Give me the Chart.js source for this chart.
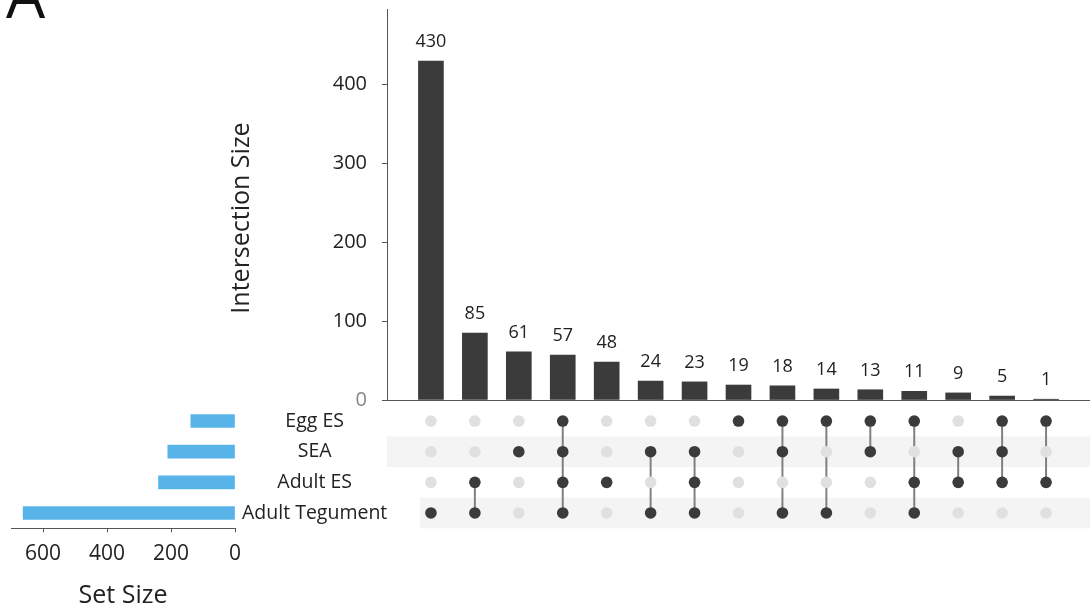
<!DOCTYPE html>
<html>
<head>
<meta charset="utf-8">
<script src="https://cdn.jsdelivr.net/npm/chart.js@4.4.0/dist/chart.umd.min.js"></script>
<style>
  body { margin: 0; background: #fff; }
  #wrap { position: relative; width: 1090px; height: 611px; overflow: hidden; }
  canvas { position: absolute; }
</style>
</head>
<body>
<div id="wrap">
  <canvas id="chart-sets" width="400" height="211" style="left:0;top:400px"></canvas>
  <canvas id="chart-matrix" width="1090" height="135" style="left:0;top:400px"></canvas>
  <canvas id="chart-bars" width="1090" height="415" style="left:0;top:0"></canvas>
</div>
<script>
const setNames = ["Egg ES", "SEA", "Adult ES", "Adult Tegument"];
const setSizes = [138, 210, 239, 662];
const intersectionSizes = [430, 85, 61, 57, 48, 24, 23, 19, 18, 14, 13, 11, 9, 5, 1];
// membership of each intersection column (1 = set is part of it)
const inEggES = [0, 0, 0, 1, 0, 0, 0, 1, 1, 1, 1, 1, 0, 1, 1];
const inSEA = [0, 0, 1, 1, 0, 1, 1, 0, 1, 0, 1, 0, 1, 1, 0];
const inAdultES = [0, 1, 0, 1, 1, 0, 1, 0, 0, 0, 0, 1, 1, 1, 1];
const inTegument = [1, 1, 0, 1, 0, 1, 1, 0, 1, 1, 0, 1, 0, 0, 0];
const intersectionTicks = [0, 100, 200, 300, 400];
const setSizeTicks = [0, 200, 400, 600];

Chart.defaults.font.family = "'Open Sans', sans-serif";
Chart.defaults.color = "#222";

const DARK = "#3b3b3b";
const AXIS = "#555";

// keep the axes from pushing the plot area around
function fixSize(w, h) {
  return (s) => {
    if (w !== null) s.width = w;
    if (h !== null) s.height = h;
    s.paddingTop = 0;
    s.paddingBottom = 0;
    s.paddingLeft = 0;
    s.paddingRight = 0;
  };
}

// ---- intersection size bars ----
const barLabels = {
  id: "barLabels",
  afterDatasetsDraw(chart) {
    const ctx = chart.ctx;
    const meta = chart.getDatasetMeta(0);
    ctx.save();
    ctx.font = '18px "Open Sans"';
    ctx.fillStyle = "#222";
    ctx.textAlign = "center";
    ctx.textBaseline = "middle";
    meta.data.forEach((bar, i) => {
      ctx.fillText(intersectionSizes[i], bar.x, bar.y - 19);
    });
    ctx.restore();
  },
  afterDraw(chart) {
    const ctx = chart.ctx;
    ctx.save();
    ctx.fillStyle = "#111";
    ctx.font = '62px "Open Sans"';
    ctx.textBaseline = "alphabetic";
    ctx.fillText("A", 6, 18);
    ctx.translate(242, 218);
    ctx.rotate(-Math.PI / 2);
    ctx.font = '25px "Open Sans"';
    ctx.textAlign = "center";
    ctx.textBaseline = "middle";
    ctx.fillStyle = "#222";
    ctx.fillText("Intersection Size", 0, 0);
    ctx.restore();
  },
};

const chartBars = new Chart(document.getElementById("chart-bars"), {
  type: "bar",
  data: {
    datasets: [
      {
        data: intersectionSizes.map((v, i) => ({ x: i, y: v })),
        backgroundColor: DARK,
        barThickness: 25,
      },
    ],
  },
  options: {
    responsive: false,
    animation: false,
    layout: { autoPadding: false, padding: { top: 9, right: 0, bottom: 15, left: 0 } },
    plugins: { legend: { display: false }, tooltip: { enabled: false } },
    scales: {
      x: {
        type: "linear",
        min: -1,
        max: 15,
        offset: false,
        ticks: { display: false },
        grid: { display: false, offset: false },
        border: { display: true, color: AXIS },
        afterFit: fixSize(null, 0),
      },
      y: {
        min: 0,
        max: 496,
        afterBuildTicks: (s) => { s.ticks = intersectionTicks.map((v) => ({ value: v })); },
        ticks: {
          padding: 15,
          font: { size: 20 },
          color: (c) => (c.tick && c.tick.value === 0 ? "#888" : "#222"),
        },
        grid: { drawOnChartArea: false, tickLength: 5, color: AXIS },
        border: { color: AXIS },
        afterFit: fixSize(387, null),
      },
    },
  },
  plugins: [barLabels],
});

// ---- membership matrix ----
const rows = [inEggES, inSEA, inAdultES, inTegument];
const onDots = [];
const offDots = [];
const links = [];
intersectionSizes.forEach((_, i) => {
  const active = [];
  rows.forEach((r, j) => {
    if (r[i]) {
      onDots.push({ x: i, y: j });
      active.push(j);
    } else {
      offDots.push({ x: i, y: j });
    }
  });
  if (active.length > 1) {
    links.push({
      data: [{ x: i, y: active[0] }, { x: i, y: active[active.length - 1] }],
      showLine: true,
      borderColor: "#808080",
      borderWidth: 2,
      pointRadius: 0,
      order: 3,
    });
  }
});

const stripes = {
  id: "stripes",
  beforeDatasetsDraw(chart) {
    const { ctx, scales: { x, y } } = chart;
    ctx.save();
    ctx.fillStyle = "#f4f4f4";
    [[1, -1], [3, -0.25]].forEach(([row, from]) => {
      const top = y.getPixelForValue(row - 0.5);
      const bottom = y.getPixelForValue(row + 0.5);
      const left = x.getPixelForValue(from);
      ctx.fillRect(left, top, x.right - left, bottom - top);
    });
    ctx.restore();
  },
};

const chartMatrix = new Chart(document.getElementById("chart-matrix"), {
  type: "scatter",
  data: {
    datasets: [
      {
        data: offDots,
        backgroundColor: "#e0e0e0",
        pointRadius: 5.8,
        pointBorderWidth: 0,
        order: 2,
      },
      ...links,
      {
        data: onDots,
        backgroundColor: DARK,
        pointRadius: 5.8,
        pointBorderWidth: 0,
        order: 1,
      },
    ],
  },
  options: {
    responsive: false,
    animation: false,
    layout: { autoPadding: false, padding: { top: 5.7, right: 0, bottom: 6.7, left: 387 } },
    plugins: { legend: { display: false }, tooltip: { enabled: false } },
    scales: {
      x: { type: "linear", min: -1, max: 15, display: false },
      y: { type: "linear", min: -0.5, max: 3.5, reverse: true, display: false },
    },
  },
  plugins: [stripes],
});

// ---- set size bars ----
const chartSets = new Chart(document.getElementById("chart-sets"), {
  type: "bar",
  data: {
    labels: setNames,
    datasets: [
      {
        data: setSizes,
        backgroundColor: "#58b4e8",
        barThickness: 13,
      },
    ],
  },
  options: {
    indexAxis: "y",
    responsive: false,
    animation: false,
    layout: { autoPadding: false, padding: { top: 5.7, right: 0, bottom: 0, left: 11 } },
    plugins: { legend: { display: false }, tooltip: { enabled: false } },
    scales: {
      x: {
        min: 0,
        max: 700,
        reverse: true,
        afterBuildTicks: (s) => { s.ticks = setSizeTicks.map((v) => ({ value: v })); },
        ticks: { padding: 9, font: { size: 21 }, color: "#222" },
        grid: { drawOnChartArea: false, tickLength: 4, color: AXIS },
        border: { color: AXIS },
        title: {
          display: true,
          text: "Set Size",
          font: { size: 25 },
          color: "#222",
          padding: { top: 0, bottom: 0 },
        },
        afterFit: fixSize(null, 82.7),
      },
      y: {
        position: "right",
        ticks: { padding: -1, crossAlign: "center", font: { size: 19.5 }, color: "#222" },
        grid: { display: false },
        border: { display: false },
        afterFit: fixSize(165, null),
      },
    },
  },
});
</script>
</body>
</html>
